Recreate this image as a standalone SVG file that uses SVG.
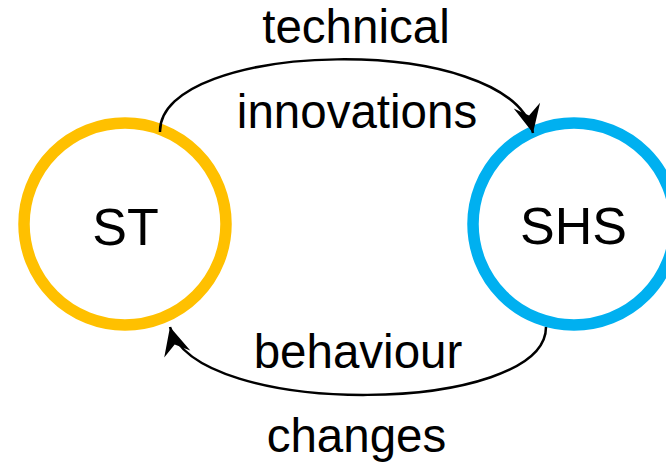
<svg xmlns="http://www.w3.org/2000/svg" width="666" height="466" viewBox="0 0 666 466">
<style>
.node{fill:#fff;stroke-width:11.5}
.lbl{font-family:"Liberation Sans",Arial,sans-serif;fill:#000;text-anchor:middle}
.edge{fill:none;stroke:#000;stroke-width:2.5}
</style>
<defs>
<marker id="ah" viewBox="-32 -16 34 32" refX="0" refY="0" markerWidth="34" markerHeight="32" orient="auto" markerUnits="userSpaceOnUse">
<path d="M0,0 L-28,-13.5 L-18,0 L-28,13.5 Z" fill="#000"/>
</marker>
</defs>
<rect width="666" height="466" fill="#fff"/>
<g id="ST">
<circle class="node" cx="125" cy="224" r="101" stroke="#FFC000"/>
<text class="lbl" x="125.5" y="245" font-size="52">ST</text>
</g>
<g id="SHS">
<circle class="node" cx="574" cy="224" r="101" stroke="#00B0F0"/>
<text class="lbl" x="573.5" y="244" font-size="52">SHS</text>
</g>
<g id="connectors">
<path class="edge" d="M160,132 C158,40 510,30 533,133" marker-end="url(#ah)"/>
<path class="edge" d="M546,327 C546,415 195,420 170,327" marker-end="url(#ah)"/>
</g>
<g id="labels">
<text class="lbl" x="356" y="43" font-size="47.5">technical</text>
<text class="lbl" x="357" y="128" font-size="47.5">innovations</text>
<text class="lbl" x="358" y="368" font-size="47.5">behaviour</text>
<text class="lbl" x="356.5" y="452" font-size="47.5">changes</text>
</g>
</svg>
